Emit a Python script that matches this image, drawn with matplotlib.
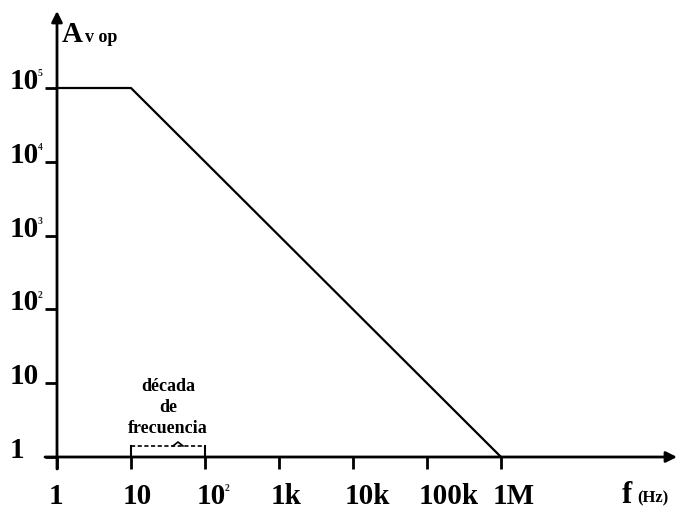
import numpy as np
import matplotlib
matplotlib.use("Agg")
import matplotlib.pyplot as plt

# open-loop gain of the op-amp (asymptotic Bode curve)
freq = [1, 10, 1e6]
gain = [1e5, 1e5, 1]

# tick labels as (base, exponent); exponent drawn as a tiny superscript
x_ticks = [1, 10, 1e2, 1e3, 1e4, 1e5, 1e6]
x_labels = [("1", ""), ("10", ""), ("10", "2"), ("1k", ""), ("10k", ""),
            ("100k", ""), ("1M", "")]
y_ticks = [1, 10, 1e2, 1e3, 1e4, 1e5]
y_labels = [("1", ""), ("10", ""), ("10", "2"), ("10", "3"), ("10", "4"),
            ("10", "5")]

decade_span = [10, 100]

plt.rcParams["font.family"] = "Liberation Serif"
plt.rcParams["font.weight"] = "bold"

# pixels per decade on each axis
PX_X = 74.0
PX_Y = 73.8


def dx(px):
    return 10 ** (px / PX_X)


def dy(px):
    return 10 ** (px / PX_Y)


def label(ax, x, y, base, exp, size):
    t = ax.text(x, y, base, ha="left", va="baseline", fontsize=size,
                fontweight="bold")
    if exp:
        ax.annotate(exp, xy=(1.0, 0.95), xycoords=t, xytext=(-1, 0),
                    textcoords="offset points", ha="left", va="top",
                    fontsize=7, fontweight="bold", color="#222222")


fig = plt.figure(figsize=(6.77, 5.10), dpi=100)
ax = fig.add_axes([0, 0, 1, 1])
ax.set_xscale("log")
ax.set_yscale("log")
ax.set_xlim(dx(-57), dx(620))
ax.set_ylim(dy(-52), dy(458))
ax.axis("off")

lw_axis = 2.0
tick = 12

# axes with arrow heads
ax.annotate("", xy=(1.0, 1), xycoords=("axes fraction", "data"),
            xytext=(dx(-tick), 1), textcoords="data",
            arrowprops=dict(arrowstyle="-|>", color="black", lw=lw_axis,
                            mutation_scale=16, shrinkA=0, shrinkB=0))
ax.annotate("", xy=(1, 1 - 12 / 510), xycoords=("data", "axes fraction"),
            xytext=(1, dy(-tick)), textcoords="data",
            arrowprops=dict(arrowstyle="-|>", color="black", lw=lw_axis,
                            mutation_scale=16, shrinkA=0, shrinkB=0))

# ticks
for xt, (base, exp) in zip(x_ticks, x_labels):
    ax.plot([xt, xt], [1, dy(-tick)], color="black", lw=lw_axis,
            solid_capstyle="butt")
    label(ax, xt * dx(-8), dy(-46), base, exp, 21)

for yt, (base, exp) in zip(y_ticks, y_labels):
    ax.plot([dx(-tick), 1], [yt, yt], color="black", lw=lw_axis,
            solid_capstyle="butt")
    label(ax, dx(-47), yt, base, exp, 21)

# gain curve
ax.plot(freq, gain, color="black", lw=1.6)

# axis titles
ax.text(dx(5), dy(416), "A", ha="left", va="baseline", fontsize=21,
        fontweight="bold")
ax.text(dx(28), dy(416), "v op", ha="left", va="baseline", fontsize=13,
        fontweight="bold")
ax.text(dx(565), dy(-45), "f", ha="left", va="baseline", fontsize=22,
        fontweight="bold")
ax.text(dx(580), dy(-44), "(Hz)", ha="left", va="baseline", fontsize=12,
        fontweight="bold")

# bracket marking one decade
y_br = dy(11)
ax.plot(decade_span, [y_br, y_br], color="black", lw=1.2, ls=(0, (2.5, 1.5)))
for xb in decade_span:
    ax.plot([xb, xb], [1, y_br], color="black", lw=1.5)
xc = np.sqrt(decade_span[0] * decade_span[1]) * dx(10)
ax.plot([xc * dx(-5), xc, xc * dx(5)], [y_br, y_br * dy(4), y_br],
        color="black", lw=1.2)
ax.text(np.sqrt(decade_span[0] * decade_span[1]), dy(25),
        "década\nde\nfrecuencia", ha="center", va="baseline", fontsize=13,
        fontweight="bold", linespacing=1.3)

fig.savefig("out.png", dpi=100, facecolor="white")
